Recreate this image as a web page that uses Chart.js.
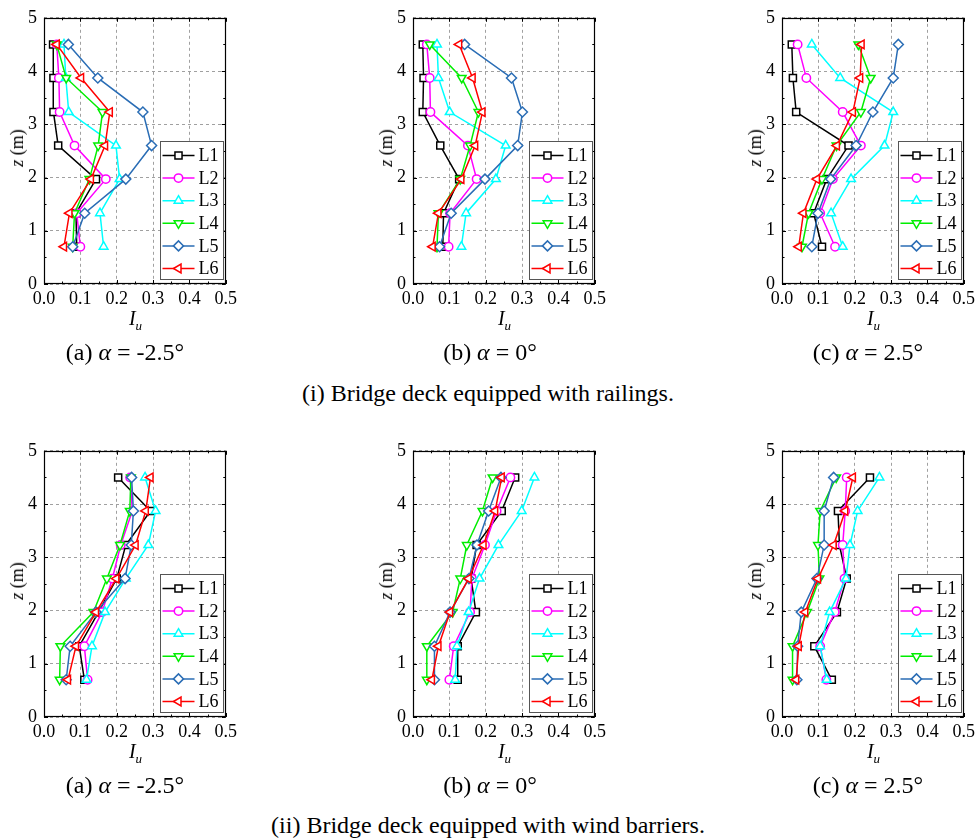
<!DOCTYPE html>
<html>
<head>
<meta charset="utf-8">
<script src="https://cdn.jsdelivr.net/npm/chart.js"></script>
<style>
html,body{margin:0;padding:0;background:#fff;}
#fig{position:relative;width:976px;height:840px;overflow:hidden;background:#fff;font-family:"Liberation Serif","Times New Roman",serif;color:#000;}
#fig canvas{position:absolute;}
.ylab{position:absolute;font-size:18px;transform:translate(-50%,-50%) rotate(-90deg);white-space:nowrap;line-height:1;}
.xlab{position:absolute;font-size:20px;transform:translate(-50%,-50%);white-space:nowrap;line-height:1;}
.xlab sub{font-size:13px;vertical-align:-5px;}
.cap{position:absolute;font-size:24px;transform:translate(-50%,-50%);white-space:nowrap;line-height:1;}
</style>
</head>
<body>
<div id="fig"></div>
<script>
// ---------------- data ----------------
const zLevels = [0.7, 1.33, 1.97, 2.6, 3.23, 3.87, 4.5];
const seriesNames = ["L1", "L2", "L3", "L4", "L5", "L6"];
const xTicks = [0.0, 0.1, 0.2, 0.3, 0.4, 0.5];
const yTicks = [0, 1, 2, 3, 4, 5];

// Iu values per series (L1..L6), listed bottom (z=0.7) to top (z=4.5)
const railingsNeg25 = [
  [0.090, 0.088, 0.143, 0.039, 0.026, 0.026, 0.025],
  [0.100, 0.090, 0.170, 0.084, 0.043, 0.041, 0.035],
  [0.164, 0.154, 0.208, 0.198, 0.068, 0.060, 0.055],
  [0.079, 0.084, 0.125, 0.149, 0.161, 0.061, 0.035],
  [0.079, 0.112, 0.225, 0.296, 0.272, 0.148, 0.067],
  [0.055, 0.070, 0.129, 0.168, 0.181, 0.102, 0.035]
];
const railings0 = [
  [0.082, 0.084, 0.127, 0.075, 0.027, 0.029, 0.027],
  [0.098, 0.102, 0.175, 0.151, 0.048, 0.046, 0.038],
  [0.133, 0.146, 0.228, 0.255, 0.101, 0.070, 0.066],
  [0.066, 0.070, 0.130, 0.157, 0.180, 0.134, 0.046],
  [0.073, 0.105, 0.198, 0.288, 0.301, 0.271, 0.142],
  [0.054, 0.070, 0.133, 0.171, 0.191, 0.164, 0.127]
];
const railingsPos25 = [
  [0.110, 0.087, 0.123, 0.183, 0.039, 0.030, 0.027],
  [0.146, 0.105, 0.140, 0.217, 0.167, 0.067, 0.043],
  [0.167, 0.135, 0.190, 0.282, 0.306, 0.160, 0.082],
  [0.055, 0.073, 0.110, 0.150, 0.217, 0.244, 0.210],
  [0.082, 0.099, 0.134, 0.204, 0.250, 0.306, 0.320],
  [0.046, 0.059, 0.096, 0.151, 0.195, 0.215, 0.219]
];
const barriersNeg25 = [
  [0.111, 0.097, 0.150, 0.200, 0.225, 0.293, 0.204],
  [0.120, 0.111, 0.160, 0.188, 0.211, 0.243, 0.237],
  [0.117, 0.132, 0.168, 0.225, 0.287, 0.307, 0.278],
  [0.043, 0.045, 0.136, 0.173, 0.209, 0.236, 0.239],
  [0.061, 0.072, 0.143, 0.223, 0.240, 0.246, 0.241],
  [0.066, 0.088, 0.143, 0.199, 0.252, 0.280, 0.293]
];
const barriers0 = [
  [0.123, 0.123, 0.173, 0.160, 0.175, 0.244, 0.281],
  [0.100, 0.112, 0.157, 0.162, 0.198, 0.230, 0.268],
  [0.116, 0.121, 0.153, 0.183, 0.235, 0.299, 0.334],
  [0.038, 0.038, 0.109, 0.130, 0.148, 0.191, 0.219],
  [0.059, 0.059, 0.102, 0.154, 0.176, 0.208, 0.242],
  [0.052, 0.070, 0.102, 0.153, 0.194, 0.226, 0.244]
];
const barriersPos25 = [
  [0.137, 0.089, 0.151, 0.178, 0.158, 0.154, 0.242],
  [0.122, 0.105, 0.145, 0.172, 0.167, 0.174, 0.178],
  [0.123, 0.105, 0.131, 0.176, 0.187, 0.208, 0.268],
  [0.029, 0.029, 0.069, 0.103, 0.099, 0.105, 0.149],
  [0.041, 0.043, 0.053, 0.096, 0.116, 0.116, 0.142],
  [0.039, 0.046, 0.064, 0.099, 0.142, 0.174, 0.195]
];

const subCaptions = ["(a) <i>α</i> = -2.5°", "(b) <i>α</i> = 0°", "(c) <i>α</i> = 2.5°"];
const rowCaptions = ["(i) Bridge deck equipped with railings.", "(ii) Bridge deck equipped with wind barriers."];

// ---------------- styles ----------------
const seriesColors = ["#000000", "#ff00ff", "#00ffff", "#00ee00", "#2a6db5", "#ff0000"];
const seriesStyles = [
  {pointStyle: "rect", rotation: 0, radius: 5},
  {pointStyle: "circle", rotation: 0, radius: 4.2},
  {pointStyle: "triangle", rotation: 0, radius: 5},
  {pointStyle: "triangle", rotation: 180, radius: 5},
  {pointStyle: "rectRot", rotation: 0, radius: 5},
  {pointStyle: "triangle", rotation: -90, radius: 5}
];

const panels = [
  {data: railingsNeg25, row: 0, col: 0},
  {data: railings0, row: 0, col: 1},
  {data: railingsPos25, row: 0, col: 2},
  {data: barriersNeg25, row: 1, col: 0},
  {data: barriers0, row: 1, col: 1},
  {data: barriersPos25, row: 1, col: 2}
];

const PLOT_LEFT = [44, 413, 782];
const PLOT_TOP = [11, 444];
const PLOT_W = 183, PLOT_H = 273;
const Y_AXIS_W = 44, X_AXIS_H = 46, PAD_TOP = 11, PAD_RIGHT = 14;
const SUBCAP_X = [125, 490, 868];
const SUBCAP_Y = [352, 785];
const ROWCAP_Y = [393, 825];

Chart.defaults.font.family = '"Liberation Serif", "Times New Roman", serif';
Chart.defaults.font.size = 18;
Chart.defaults.color = "#000";

function drawMarker(ctx, style, x, y, color) {
  ctx.save();
  ctx.fillStyle = "#fff";
  ctx.strokeStyle = color;
  ctx.lineWidth = 1.5;
  if (Chart.helpers && Chart.helpers.drawPoint) {
    Chart.helpers.drawPoint(ctx, {pointStyle: style.pointStyle, rotation: style.rotation, radius: style.radius, borderWidth: 1.5}, x, y);
  }
  ctx.restore();
}

const framePlugin = {
  id: "frameLegend",
  afterDraw(chart) {
    const {ctx, chartArea: a, scales} = chart;
    const xs = scales.x, ys = scales.y;
    ctx.save();
    ctx.setLineDash([]);
    ctx.strokeStyle = "#000";
    ctx.lineWidth = 1;
    // inward ticks (major + minor) on all four sides
    ctx.beginPath();
    for (let k = 0; k <= 10; k++) {
      const px = Math.round(xs.getPixelForValue(k * 0.05)) + 0.5;
      const len = k % 2 === 0 ? 4 : 2.5;
      ctx.moveTo(px, a.bottom); ctx.lineTo(px, a.bottom - len);
      ctx.moveTo(px, a.top); ctx.lineTo(px, a.top + len);
      const py = Math.round(ys.getPixelForValue(k * 0.5)) + 0.5;
      ctx.moveTo(a.left, py); ctx.lineTo(a.left + len, py);
      ctx.moveTo(a.right, py); ctx.lineTo(a.right - len, py);
    }
    ctx.stroke();
    ctx.lineWidth = 1.2;
    ctx.strokeRect(Math.round(a.left) + 0.5, Math.round(a.top) + 0.5, Math.round(a.width) - 1, Math.round(a.height) - 1);

    // legend box (bottom-right inside plot)
    const right = Math.round(a.right) - 2.5, left = right - 63;
    const bottom = Math.round(a.bottom) - 4.5, top = bottom - 138;
    ctx.fillStyle = "#fff";
    ctx.fillRect(left, top, right - left, bottom - top);
    ctx.strokeStyle = "#555";
    ctx.lineWidth = 1;
    ctx.strokeRect(left, top, right - left, bottom - top);
    ctx.font = '18px "Liberation Serif", "Times New Roman", serif';
    ctx.textBaseline = "middle";
    ctx.textAlign = "left";
    chart.data.datasets.forEach((ds, i) => {
      const yy = top + 14 + i * 22.6;
      ctx.strokeStyle = ds.borderColor;
      ctx.lineWidth = 1.5;
      ctx.beginPath();
      ctx.moveTo(left + 2, yy); ctx.lineTo(left + 34, yy);
      ctx.stroke();
      drawMarker(ctx, seriesStyles[i], left + 18, yy, ds.borderColor);
      ctx.fillStyle = "#000";
      ctx.fillText(ds.label, left + 38, yy + 1);
    });
    ctx.restore();
  }
};

const fig = document.getElementById("fig");

panels.forEach(p => {
  const pl = PLOT_LEFT[p.col], pt = PLOT_TOP[p.row];
  const canvas = document.createElement("canvas");
  const cw = Y_AXIS_W + PLOT_W + PAD_RIGHT, ch = PAD_TOP + PLOT_H + X_AXIS_H;
  canvas.width = cw; canvas.height = ch;
  canvas.style.width = cw + "px"; canvas.style.height = ch + "px";
  canvas.style.left = (pl - Y_AXIS_W) + "px";
  canvas.style.top = (pt - PAD_TOP) + "px";
  fig.appendChild(canvas);

  const datasets = p.data.map((vals, i) => ({
    label: seriesNames[i],
    data: vals.map((v, j) => ({x: v, y: zLevels[j]})),
    showLine: true,
    borderColor: seriesColors[i],
    backgroundColor: "#ffffff",
    borderWidth: 1.5,
    pointStyle: seriesStyles[i].pointStyle,
    pointRotation: seriesStyles[i].rotation,
    pointRadius: seriesStyles[i].radius,
    pointBorderWidth: 1.5,
    pointBackgroundColor: "#ffffff",
    pointBorderColor: seriesColors[i],
    order: seriesNames.length - i,
    tension: 0
  }));

  new Chart(canvas, {
    type: "scatter",
    data: {datasets},
    options: {
      responsive: false,
      animation: false,
      devicePixelRatio: 1,
      layout: {padding: {top: PAD_TOP, right: PAD_RIGHT, left: 0, bottom: 0}},
      plugins: {legend: {display: false}, tooltip: {enabled: false}},
      scales: {
        x: {
          type: "linear", min: xTicks[0], max: xTicks[xTicks.length - 1],
          afterFit: s => { s.height = X_AXIS_H; },
          afterBuildTicks: s => { s.ticks = xTicks.map(v => ({value: v})); },
          ticks: {padding: 4, maxRotation: 0, autoSkip: false, callback: v => Number(v).toFixed(1), font: {size: 18}},
          grid: {color: "#a0a0a0", lineWidth: 1, drawTicks: false},
          border: {display: false, dash: [3, 3]}
        },
        y: {
          type: "linear", min: yTicks[0], max: yTicks[yTicks.length - 1],
          afterFit: s => { s.width = Y_AXIS_W; },
          afterBuildTicks: s => { s.ticks = yTicks.map(v => ({value: v})); },
          ticks: {padding: 7, autoSkip: false, callback: v => String(v), font: {size: 18}},
          grid: {color: "#a0a0a0", lineWidth: 1, drawTicks: false},
          border: {display: false, dash: [3, 3]}
        }
      }
    },
    plugins: [framePlugin]
  });

  const yl = document.createElement("div");
  yl.className = "ylab";
  yl.innerHTML = "<i>z</i> (m)";
  yl.style.left = (pl - 27) + "px";
  yl.style.top = (pt + PLOT_H / 2) + "px";
  fig.appendChild(yl);

  const xl = document.createElement("div");
  xl.className = "xlab";
  xl.innerHTML = "<i>I</i><sub><i>u</i></sub>";
  xl.style.left = (pl + PLOT_W / 2) + "px";
  xl.style.top = (pt + PLOT_H + 36) + "px";
  fig.appendChild(xl);
});

for (let r = 0; r < 2; r++) {
  for (let c = 0; c < 3; c++) {
    const d = document.createElement("div");
    d.className = "cap";
    d.innerHTML = subCaptions[c];
    d.style.left = SUBCAP_X[c] + "px";
    d.style.top = SUBCAP_Y[r] + "px";
    fig.appendChild(d);
  }
  const m = document.createElement("div");
  m.className = "cap";
  m.textContent = rowCaptions[r];
  m.style.left = "488px";
  m.style.top = ROWCAP_Y[r] + "px";
  fig.appendChild(m);
}
</script>
</body>
</html>
